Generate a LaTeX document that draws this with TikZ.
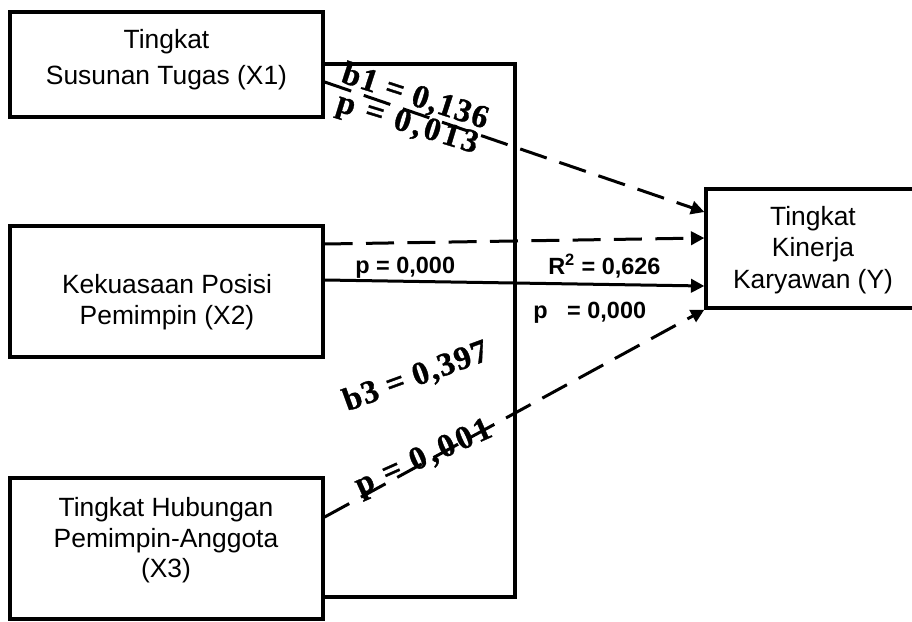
\documentclass[tikz,border=0pt]{standalone}
\usepackage{fontspec}
\setmainfont{Liberation Sans}
\newfontfamily\labserif{Liberation Serif}[UprightFont={* Bold}, LetterSpace=4, FakeBold=1]
\newfontfamily\labserifw{Liberation Serif}[UprightFont={* Bold}, LetterSpace=10, FakeBold=1]
\usetikzlibrary{arrows.meta}
\begin{document}
\begin{tikzpicture}[x=0.75pt,y=-0.75pt,
  box/.style={draw, line width=2.5pt, inner sep=0pt},
  txt/.style={anchor=base, inner sep=0pt, font=\fontsize{19.8}{24}\selectfont},
  lab/.style={inner sep=0pt, anchor=base west, font=\fontsize{17.6}{21}\selectfont\bfseries},
  slab/.style={inner sep=0pt, font=\fontsize{24.5}{28}\selectfont\labserif},
  slabw/.style={inner sep=0pt, font=\fontsize{24.5}{28}\selectfont\labserifw},
  conn/.style={line width=2.25pt, -{Triangle[length=10pt,width=10pt]}},
  dsh/.style={dash pattern=on 21pt off 10pt}]
\useasboundingbox (0,0) rectangle (912,621);
% boxes
\node[box, minimum width=234.75pt, minimum height=78.75pt] (x1) at (166.5,64.5) {};
\node[box, minimum width=234.75pt, minimum height=98.25pt] (x2) at (166.5,291.5) {};
\node[box, minimum width=234.75pt, minimum height=105.75pt] (x3) at (166.5,548.5) {};
\node[box, minimum width=168pt, minimum height=89.25pt] (y) at (818,248.5) {};
% box texts
\node[txt] (x1a) at (166.5,48) {Tingkat};
\node[txt] (x1b) at (166.5,84) {Susunan Tugas (X1)};
\node[txt] (x2a) at (167,293) {Kekuasaan Posisi};
\node[txt] (x2b) at (167,324) {Pemimpin (X2)};
\node[txt] (x3a) at (166,516) {Tingkat Hubungan};
\node[txt] (x3b) at (166,547) {Pemimpin-Anggota};
\node[txt] (x3c) at (166,577) {(X3)};
\node[txt] (ya) at (813,225) {Tingkat};
\node[txt] (yb) at (813,256) {Kinerja};
\node[txt] (yc) at (813,288) {Karyawan (Y)};
% bracket
\coordinate (bt) at (515,64);
\coordinate (bb) at (515,597);
\draw[line width=2.5pt] (x1.east |- bt) -- (bt) -- (bb) -- (x3.east |- bb);
% arrows
\coordinate (s1) at (0,82);
\coordinate (e1) at (0,212);
\coordinate (s2) at (0,244);
\coordinate (e2) at (0,238);
\coordinate (s3) at (0,280);
\coordinate (e3) at (0,286);
\coordinate (s4) at (0,517);
\draw[conn,dsh] (x1.east |- s1) -- (y.west |- e1);
\draw[conn,dsh] (x2.east |- s2) -- (y.west |- e2);
\draw[conn] (x2.east |- s3) -- (y.west |- e3);
\draw[conn,dsh] (x3.east |- s4) -- (y.south west);
% labels
\node[lab] (l1) at (355,273) {p = 0,000};
\node[lab] (l2) at (548,274) {R\textsuperscript{2} = 0,626};
\node[lab] (l3) at (533,318) {p\ \ \ = 0,000};
\node[slab, rotate=-18] (b1) at (415,97) {b1 = 0,136};
\node[slabw, rotate=-17] (p1) at (407,125) {p = 0,013};
\node[slab, rotate=20] (b3) at (416,377) {b3 = 0,397};
\node[slabw, rotate=24] (p3) at (424,459) {p = 0,001};
\end{tikzpicture}
\end{document}
